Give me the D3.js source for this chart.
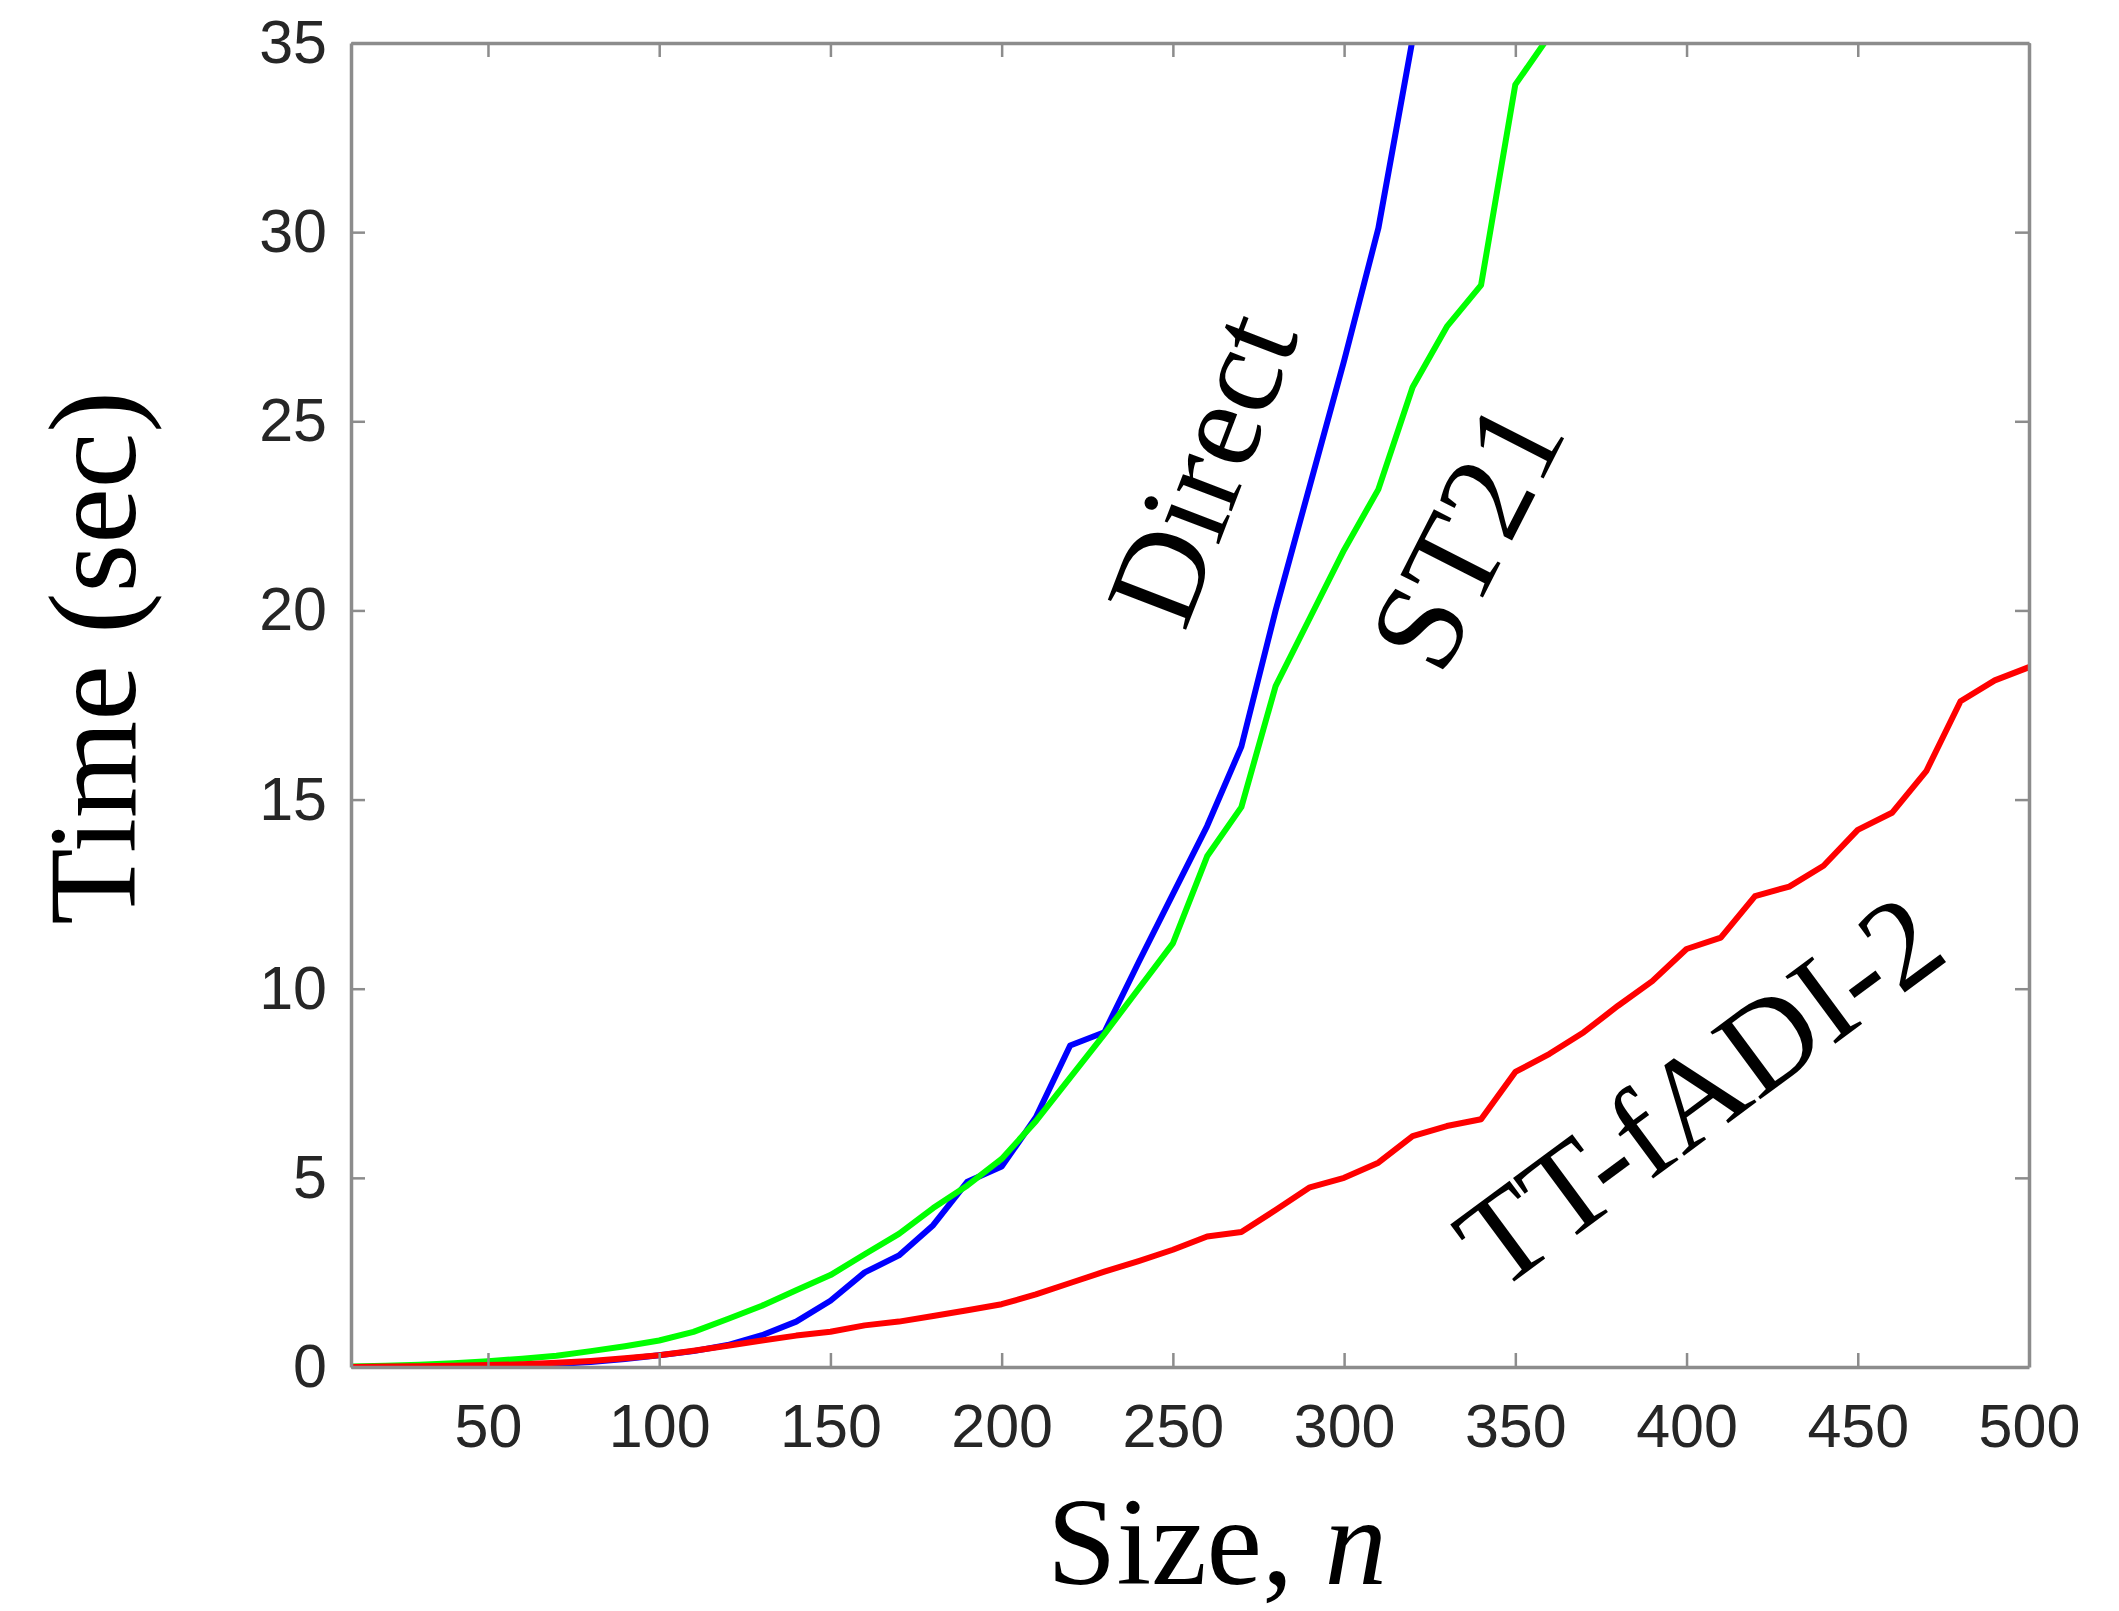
<!DOCTYPE html>
<html>
<head>
<meta charset="utf-8">
<script src="https://cdn.jsdelivr.net/npm/d3@7"></script>
<style>
    body { margin: 0; background: #fff; }
    .axis text { font-family: "Liberation Sans", Arial, sans-serif; font-size: 61px; fill: #262626; }
    .axis path { stroke: #8c8c8c; stroke-width: 3.5; }
    .axis line { stroke: #8c8c8c; stroke-width: 2.5; }
    .lbl { font-family: "Liberation Serif", "Times New Roman", serif; font-size: 125px; fill: #000; }
    .curve { font-size: 128px; }
</style>
</head>
<body>
<svg></svg>
<script>
const sizes = [10, 20, 30, 40, 50, 60, 70, 80, 90, 100,
    110, 120, 130, 140, 150, 160, 170, 180, 190, 200,
    210, 220, 230, 240, 250, 260, 270, 280, 290, 300,
    310, 320, 330, 340, 350, 360, 370, 380, 390, 400,
    410, 420, 430, 440, 450, 460, 470, 480, 490, 500];

// Direct (blue) - leaves the frame after n = 320
const direct = [0.00, 0.00, 0.01, 0.02, 0.03, 0.05, 0.08, 0.13, 0.21, 0.31,
    0.42, 0.58, 0.84, 1.20, 1.75, 2.50, 2.95, 3.75, 4.90, 5.30,
    6.60, 8.50, 8.85, 10.7, 12.5, 14.3, 16.4, 20.0, 23.3, 26.6,
    30.1, 35.1];

// ST21 (green) - leaves the frame after n = 360
const st21 = [0.01, 0.03, 0.06, 0.10, 0.15, 0.22, 0.30, 0.42, 0.55, 0.70,
    0.93, 1.27, 1.62, 2.03, 2.43, 2.98, 3.52, 4.20, 4.80, 5.50,
    6.50, 7.65, 8.80, 10.0, 11.2, 13.5, 14.8, 18.0, 19.8, 21.6,
    23.2, 25.9, 27.5, 28.6, 33.9, 35.2];

// TT-fADI-2 (red)
const ttfadi = [0.00, 0.01, 0.02, 0.03, 0.05, 0.07, 0.11, 0.16, 0.23, 0.31,
    0.43, 0.56, 0.70, 0.83, 0.93, 1.10, 1.20, 1.35, 1.50, 1.66,
    1.92, 2.22, 2.52, 2.80, 3.10, 3.45, 3.57, 4.15, 4.75, 5.00,
    5.40, 6.10, 6.37, 6.55, 7.80, 8.28, 8.85, 9.55, 10.2, 11.05,
    11.35, 12.45, 12.7, 13.25, 14.2, 14.65, 15.75, 17.6, 18.15, 18.5];

const xTicks = [50, 100, 150, 200, 250, 300, 350, 400, 450, 500];
const yTicks = [0, 5, 10, 15, 20, 25, 30, 35];

const seriesNames = ['Direct', 'ST21', 'TT-fADI-2'];
const seriesColors = ['#0000ff', '#00ff00', '#ff0000'];

// where each curve label sits (data coords) and its slant
const labelN = [253.5, 328.5, 345];
const labelT = [19.4, 18.2, 1.95];
const labelAngle = [-69, -63, -36.5];

const SVGsize = {w: 2119, h: 1611};
const plot = {l: 351, r: 2029, t: 43, b: 1367};

const svg = d3.select('svg')
    .attr('width', SVGsize.w)
    .attr('height', SVGsize.h);

const scaleX = d3.scaleLinear()
    .domain([10, 500])
    .range([plot.l, plot.r]);

const scaleY = d3.scaleLinear()
    .domain([0, 35])
    .range([plot.b, plot.t]);

svg.append('defs').append('clipPath')
    .attr('id', 'clip')
    .append('rect')
    .attr('x', plot.l)
    .attr('y', plot.t)
    .attr('width', plot.r - plot.l)
    .attr('height', plot.b - plot.t);

// lines
const series = [direct, st21, ttfadi].map((vals, i) => ({
    name: seriesNames[i],
    color: seriesColors[i],
    points: vals.map((v, j) => ({n: sizes[j], t: v}))
}));

const line = d3.line()
    .x(d => scaleX(d.n))
    .y(d => scaleY(d.t));

svg.append('g')
    .attr('clip-path', 'url(#clip)')
    .selectAll('path')
    .data(series)
    .join('path')
    .attr('fill', 'none')
    .attr('stroke', d => d.color)
    .attr('stroke-width', 6)
    .attr('stroke-linejoin', 'round')
    .attr('d', d => line(d.points));

// axes (box with inward ticks on all four sides)
const tick = 14;

svg.append('g')
    .classed('axis', true)
    .attr('transform', `translate(0, ${plot.b})`)
    .call(d3.axisBottom(scaleX).tickValues(xTicks).tickSizeInner(-tick).tickSizeOuter(0).tickPadding(37));

svg.append('g')
    .classed('axis', true)
    .attr('transform', `translate(0, ${plot.t})`)
    .call(d3.axisTop(scaleX).tickValues(xTicks).tickSizeInner(-tick).tickSizeOuter(0).tickFormat(''));

svg.append('g')
    .classed('axis', true)
    .attr('transform', `translate(${plot.l}, 0)`)
    .call(d3.axisLeft(scaleY).tickValues(yTicks).tickSizeInner(-tick).tickSizeOuter(0).tickPadding(24));

svg.append('g')
    .classed('axis', true)
    .attr('transform', `translate(${plot.r}, 0)`)
    .call(d3.axisRight(scaleY).tickValues(yTicks).tickSizeInner(-tick).tickSizeOuter(0).tickFormat(''));

// axis titles
svg.append('text')
    .classed('lbl', true)
    .attr('text-anchor', 'middle')
    .attr('transform', 'translate(135, 658) rotate(-90)')
    .text('Time (sec)');

const xTitle = svg.append('text')
    .classed('lbl', true)
    .attr('text-anchor', 'middle')
    .attr('x', 1217)
    .attr('y', 1584);
xTitle.append('tspan').text('Size, ');
xTitle.append('tspan').attr('font-style', 'italic').text('n');

// curve labels
svg.append('g')
    .selectAll('text')
    .data(seriesNames)
    .join('text')
    .classed('lbl', true)
    .classed('curve', true)
    .attr('transform', (d, i) => `translate(${scaleX(labelN[i])}, ${scaleY(labelT[i])}) rotate(${labelAngle[i]})`)
    .text(d => d);
</script>
</body>
</html>
